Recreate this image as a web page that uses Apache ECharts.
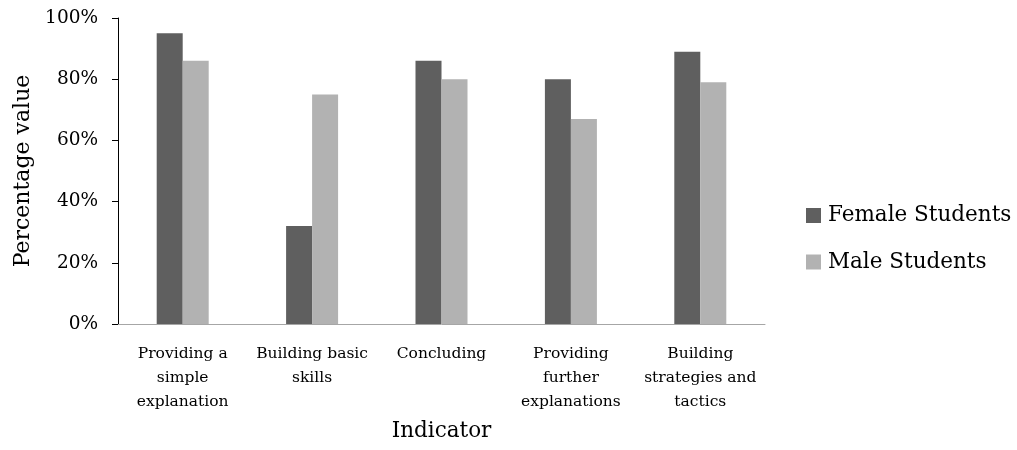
<!DOCTYPE html>
<html>
<head>
<meta charset="utf-8">
<script src="https://cdn.jsdelivr.net/npm/echarts@6/dist/echarts.min.js"></script>
<style>html,body{margin:0;padding:0;background:#fff;}#c{width:1017px;height:450px;}</style>
</head>
<body>
<div id="c"></div>
<script>
const categories = ["Providing a simple explanation", "Building basic skills", "Concluding", "Providing further explanations", "Building strategies and tactics"];
const tickLabels = ["Providing a\nsimple\nexplanation", "Building basic\nskills", "Concluding", "Providing\nfurther\nexplanations", "Building\nstrategies and\ntactics"];
const femaleStudents = [95, 32, 86, 80, 89];
const maleStudents = [86, 75, 80, 67, 79];
const seriesNames = ["Female Students", "Male Students"];

const FONT = "DejaVu Serif";
const chart = echarts.init(document.getElementById('c'), null, {renderer: 'canvas'});
chart.setOption({
  animation: false,
  backgroundColor: '#ffffff',
  textStyle: {fontFamily: FONT, color: '#000'},
  grid: {left: 118, right: 252, top: 18, bottom: 126, containLabel: false},
  legend: {
    orient: 'vertical', left: 801, top: 198,
    itemWidth: 15, itemHeight: 15, itemGap: 21.5,
    icon: 'rect',
    textStyle: {fontFamily: FONT, fontSize: 21.5, color: '#000', lineHeight: 25, padding: [0, 0, 0, 2]},
    data: seriesNames
  },
  xAxis: {
    type: 'category',
    data: categories,
    name: 'Indicator',
    nameLocation: 'middle',
    nameGap: 96,
    nameTextStyle: {fontFamily: FONT, fontSize: 21.5, color: '#000'},
    axisLine: {lineStyle: {color: '#a6a6a6', width: 1}},
    axisTick: {show: false},
    axisLabel: {
      interval: 0, margin: 18, color: '#000', fontFamily: FONT, fontSize: 15.5, lineHeight: 24,
      formatter: (v, i) => tickLabels[i]
    }
  },
  yAxis: {
    type: 'value', min: 0, max: 100, interval: 20,
    name: 'Percentage value',
    nameLocation: 'middle',
    nameGap: 84,
    nameRotate: 90,
    nameTextStyle: {fontFamily: FONT, fontSize: 22, color: '#000'},
    axisLine: {show: true, lineStyle: {color: '#000', width: 1}},
    axisTick: {show: true, length: 6, lineStyle: {color: '#000'}},
    splitLine: {show: false},
    axisLabel: {margin: 20, color: '#000', fontFamily: FONT, fontSize: 18.5, formatter: '{value}%'}
  },
  series: [
    {name: seriesNames[0], type: 'bar', data: femaleStudents, barWidth: 26, barGap: '0%', itemStyle: {color: '#5f5f5f'}},
    {name: seriesNames[1], type: 'bar', data: maleStudents, barWidth: 26, barGap: '0%', itemStyle: {color: '#b2b2b2'}}
  ]
});
</script>
</body>
</html>
